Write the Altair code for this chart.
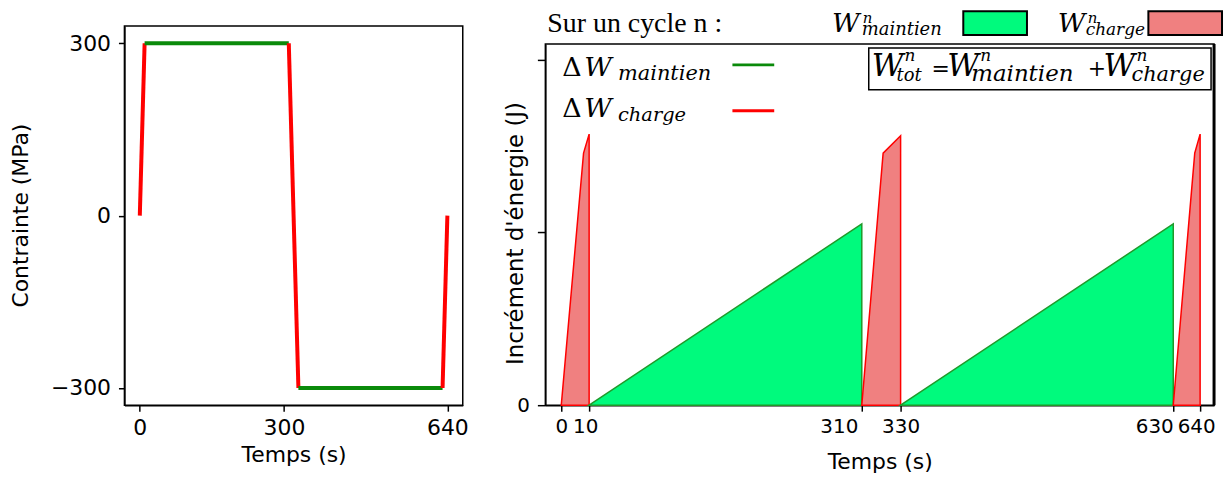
import altair as alt
import pandas as pd

# ---------------- data : left panel (stress vs time) ----------------
left_time = [0, 10, 10, 310, 310, 330, 330, 630, 630, 640]
left_stress = [0, 300, 300, 300, 300, -300, -300, -300, -300, 0]
left_seg = ["c1", "c1", "m1", "m1", "c2", "c2", "m2", "m2", "c3", "c3"]
left_phase = ["charge", "charge", "maintien", "maintien", "charge", "charge",
              "maintien", "maintien", "charge", "charge"]

# ---------------- data : right panel (energy increments) ----------------
right_time = [0, 8, 10, 10, 310, 310, 321, 330, 330, 630, 630, 638, 640]
right_energy = [0, 1.46, 1.57, 0, 1.05, 0, 1.46, 1.56, 0, 1.05, 0, 1.46, 1.57]
right_seg = ["c1", "c1", "c1", "m1", "m1", "c2", "c2", "c2", "m2", "m2", "c3", "c3", "c3"]
right_phase = ["charge", "charge", "charge", "maintien", "maintien", "charge", "charge",
               "charge", "maintien", "maintien", "charge", "charge", "charge"]

left_ticks_x = [0, 300, 640]
left_ticks_y = [-300, 0, 300]
right_ticks_x = [0, 10, 310, 330, 630, 640]
right_ticks_y = [0, 1, 2]

left_df = pd.DataFrame({"t": left_time, "s": left_stress, "seg": left_seg, "phase": left_phase})
right_df = pd.DataFrame({"t": right_time, "w": right_energy, "seg": right_seg, "phase": right_phase})
one = pd.DataFrame({"a": [0]})

LBL = 22

# ---------------- left panel ----------------
left = alt.Chart(left_df).mark_line(strokeWidth=4).encode(
    x=alt.X("t:Q", scale=alt.Scale(domain=[-32, 672], nice=False, zero=False),
            axis=alt.Axis(values=left_ticks_x, title="Temps (s)", labelFontSize=LBL,
                          titleFontSize=LBL, tickSize=6, labelPadding=6,
                          titleY=40, labelFlush=False)),
    y=alt.Y("s:Q", scale=alt.Scale(domain=[-330, 330], nice=False, zero=False),
            axis=alt.Axis(values=left_ticks_y, title="Contrainte (MPa)", labelFontSize=LBL,
                          titleFontSize=LBL, tickSize=6, labelPadding=8,
                          titleX=-92, titleY=190, labelFlush=False)),
    color=alt.Color("phase:N", scale=alt.Scale(domain=["maintien", "charge"],
                                               range=["#0a8a0a", "#ff0000"]), legend=None),
    detail="seg:N",
    order=alt.Order("t:Q"),
).properties(width=340, height=381)


# ---------------- right panel ----------------
def txt(s, x, y, size, italic=True, font="DejaVu Serif"):
    return alt.Chart(one).mark_text(
        text=s, font=font, fontSize=size, fontStyle="italic" if italic else "normal",
        align="left", baseline="alphabetic", color="black"
    ).encode(x=alt.value(x), y=alt.value(y))


def rect(x1, x2, y1, y2, fill, sw=2):
    return alt.Chart(one).mark_rect(fill=fill, stroke="black", strokeWidth=sw).encode(
        x=alt.value(x1), x2=alt.value(x2), y=alt.value(y1), y2=alt.value(y2))


def rule(x1, x2, y, color):
    return alt.Chart(one).mark_rule(strokeWidth=3, color=color).encode(
        x=alt.value(x1), x2=alt.value(x2), y=alt.value(y))


areas = alt.Chart(right_df).mark_area(strokeWidth=1.5).encode(
    x=alt.X("t:Q",
            scale=alt.Scale(domain=[-6, 0, 10, 310, 330, 630, 640, 645],
                            range=[0, 16, 44, 318, 357, 631, 658, 672],
                            nice=False, zero=False),
            axis=alt.Axis(values=right_ticks_x, title="Temps (s)", labelFontSize=20,
                          titleFontSize=LBL, tickSize=6, labelPadding=5, titleY=47,
                          labelOverlap=False, labelFlush=False,
                          labelAlign={"condition": {"test": "datum.value == 310 || datum.value == 630",
                                                    "value": "right"},
                                      "value": "center"},
                          labelOffset={"condition": {"test": "datum.value == 10 || datum.value == 640 || datum.value == 310",
                                                     "value": -4},
                                       "value": 0})),
    y=alt.Y("w:Q", stack=False,
            scale=alt.Scale(domain=[0, 2.092], nice=False, zero=False),
            axis=alt.Axis(values=right_ticks_y, title="Incrément d'énergie (J)",
                          labelExpr="datum.value == 0 ? '0' : ''", labelFontSize=20,
                          titleFontSize=23, tickSize=8, labelPadding=8,
                          titleX=-18, titleY=190, labelFlush=False)),
    fill=alt.Fill("phase:N", scale=alt.Scale(domain=["maintien", "charge"],
                                             range=["#00fa7d", "#f08080"]), legend=None),
    stroke=alt.Stroke("phase:N", scale=alt.Scale(domain=["maintien", "charge"],
                                                 range=["#1f9a2a", "#ff0000"]), legend=None),
    detail="seg:N",
)

# heavier right edge of the frame, as in the original figure
right_edge = alt.Chart(one).mark_rule(strokeWidth=3, color="black").encode(
    x=alt.value(672), y=alt.value(0), y2=alt.value(363))

annot = [
    # header above the plot
    txt("Sur un cycle n :", 2, -12, 28, italic=False, font="Liberation Serif"),
    txt("W", 288, -12, 27), txt("n", 319, -21, 15), txt("maintien", 318, -9, 18),
    rect(420, 484, -33, -9, "#00fa7d"),
    txt("W", 515, -12, 27), txt("n", 545, -21, 15), txt("charge", 543, -9, 17),
    rect(606, 680, -33, -9, "#f08080"),
    # line legend
    txt("Δ", 17, 32, 27, italic=False), txt("W", 39, 32, 27), txt("maintien", 73, 36, 21),
    rule(188, 230, 21, "#0a8a0a"),
    txt("Δ", 17, 73, 27, italic=False), txt("W", 39, 73, 27), txt("charge", 73, 77, 19.5),
    rule(188, 230, 67, "#ff0000"),
    # boxed formula
    rect(325, 669, 4, 46, "white", sw=1.5),
    txt("W", 328, 32, 31), txt("n", 361, 17, 17), txt("tot", 353, 37, 18),
    txt("=", 388, 32, 22, italic=False),
    txt("W", 404, 32, 31), txt("n", 437, 17, 17), txt("maintien", 428, 37, 23),
    txt("+", 545, 32, 22, italic=False),
    txt("W", 561, 32, 31), txt("n", 594, 17, 17), txt("charge", 589, 37, 21),
]

right_main = alt.layer(areas, right_edge, *annot).properties(width=672, height=363)

strip = alt.Chart(one).mark_point(opacity=0).encode(
    x=alt.value(0), y=alt.value(0)
).properties(width=672, height=18, view=alt.ViewBackground(stroke="transparent"))

right = alt.vconcat(strip, right_main, spacing=0, bounds="flush")

chart = alt.hconcat(left, right, spacing=83, bounds="flush").properties(
    padding={"left": 1, "top": 0, "right": 0, "bottom": 0}
).configure_view(stroke="black", strokeWidth=1.5).configure_axis(
    domainColor="black", domainWidth=1.5, tickColor="black", tickWidth=1.5,
    labelColor="black", titleColor="black", labelFont="DejaVu Sans",
    titleFont="DejaVu Sans", titleFontWeight="normal", grid=False
)

chart.save("out.html", embed_options={"renderer": "svg", "actions": False})
